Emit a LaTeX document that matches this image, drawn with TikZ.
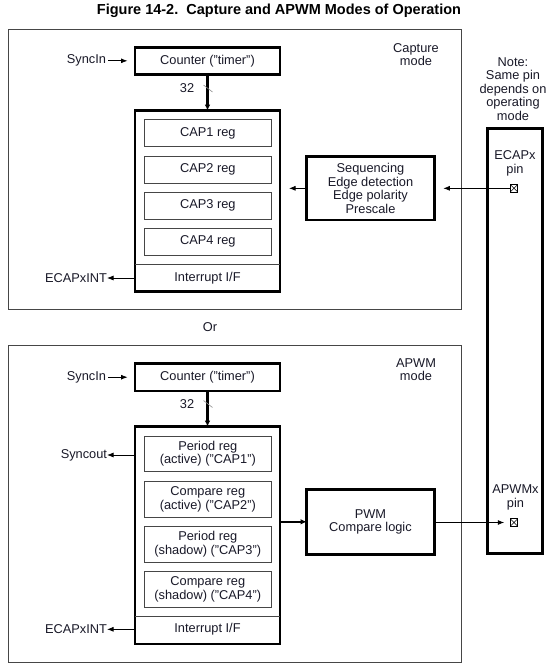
\documentclass[tikz,border=0pt]{standalone}
\usepackage{fontspec}
\setmainfont{Liberation Sans}
\usetikzlibrary{arrows.meta}
\definecolor{txtc}{RGB}{25,25,40}
\definecolor{linec}{RGB}{70,70,70}
\begin{document}
\begin{tikzpicture}[x=1pt,y=-1pt,
  txt/.style={font=\fontsize{12.8}{13.5}\selectfont, text=txtc, inner sep=0pt, outer sep=0pt, align=center},
  frame/.style={draw=linec, line width=0.9pt},
  thickbox/.style={draw=black, line width=2.6pt, inner sep=0pt, outer sep=0pt},
  regbox/.style={txt, draw=linec, line width=0.8pt, minimum width=127.7pt},
  arr/.style={draw=black, line width=0.8pt, -{Latex[length=6.5pt,width=5pt]}},
  bus/.style={draw=black, line width=2.6pt, -{Latex[length=6pt,width=5.5pt]}},
  slashmark/.style={draw=black!45, line width=0.6pt},
  pinsym/.style={draw=black, line width=0.6pt, minimum size=7.5pt, inner sep=0pt, outer sep=0pt,
    path picture={\draw[line width=0.5pt] (path picture bounding box.south west) -- (path picture bounding box.north east)
      (path picture bounding box.north west) -- (path picture bounding box.south east);}},
]
\useasboundingbox (0,0) rectangle (554,667);
\fill[white] (0,0) rectangle (554,667);

% title
\node[font=\bfseries\fontsize{14.5}{16}\selectfont, text=black, inner sep=0pt] (title) at (279,11) {Figure 14-2.\ \ Capture and APWM Modes of Operation};

% ===== Capture mode =====
\draw[frame] (8.3,29.3) rectangle (461.7,309.3);
\node[txt] (capmode) at (416,54.5) {Capture\\mode};

\node[thickbox, txt, minimum width=145pt, minimum height=27pt] (cnt1) at (207.5,60.8) {Counter ("timer")};
\node[txt, anchor=east] (si1) at (106,60.8) {SyncIn};
\draw[arr, shorten <=2pt, shorten >=7.5pt] (si1.east) -- (cnt1.west);

\node[thickbox, minimum width=145pt, minimum height=181pt] (stk1) at (207.5,201.2) {};
\draw[bus] (cnt1.south) -- (stk1.north);
\node[txt] (n32a) at (187,88.3) {32};
\draw[slashmark] (203.5,85) -- (212.5,92);

\node[regbox, minimum height=27pt] (cap1) at (207.8,133) {CAP1 reg};
\node[regbox, minimum height=27pt] (cap2) at (207.8,169.7) {CAP2 reg};
\node[regbox, minimum height=27pt] (cap3) at (207.8,205.7) {CAP3 reg};
\node[regbox, minimum height=27pt] (cap4) at (207.8,241.8) {CAP4 reg};
\coordinate (div1) at (135,264.3);
\draw[draw=linec, line width=0.8pt] (div1) -- (div1 -| stk1.east);
\node[txt] (int1) at (207.5,278) {Interrupt I/F};
\node[txt, anchor=east] (ei1) at (107,278) {ECAPxINT};
\draw[arr] (stk1.west |- int1) -- (ei1.east);

\node[thickbox, txt, minimum width=127.6pt, minimum height=63.3pt] (seq) at (370.5,188.3) {Sequencing\\Edge detection\\Edge polarity\\Prescale};
\draw[arr, shorten >=9pt] (seq.west) -- (stk1.east |- seq.west);

% ===== pin column =====
\node[thickbox, minimum width=55pt, minimum height=425pt] (col) at (515,341) {};
\node[txt] (note) at (513,88.7) {Note:\\Same pin\\depends on\\operating\\mode};
\node[txt] (ecaplbl) at (515,163.3) {ECAPx\\pin};
\node[pinsym] (pin1) at (514,188.3) {};
\draw[arr, shorten >=9pt] (pin1.west) -- (seq.east);
\node[txt] (apwmlbl) at (515.5,497.3) {APWMx\\pin};
\node[pinsym] (pin2) at (514,522.5) {};

% Or
\node[txt] (or) at (210,327) {Or};

% ===== APWM mode =====
\draw[frame] (8.3,345.7) rectangle (461.7,662.3);
\node[txt] (apwmmode) at (416,369.5) {APWM\\mode};

\node[thickbox, txt, minimum width=145pt, minimum height=27.7pt] (cnt2) at (207.5,377.2) {Counter ("timer")};
\node[txt, anchor=east] (si2) at (106,377.2) {SyncIn};
\draw[arr, shorten <=2pt, shorten >=7.5pt] (si2.east) -- (cnt2.west);

\node[thickbox, minimum width=145pt, minimum height=217.3pt] (stk2) at (207.5,535.35) {};
\draw[bus] (cnt2.south) -- (stk2.north);
\node[txt] (n32b) at (187,404) {32};
\draw[slashmark] (203.5,400.5) -- (212.5,407.5);

\node[regbox, minimum height=35.5pt] (pra) at (207.8,453.9) {Period reg\\(active) ("CAP1")};
\node[regbox, minimum height=35.5pt] (cra) at (207.8,499.2) {Compare reg\\(active) ("CAP2")};
\node[regbox, minimum height=35.5pt] (prs) at (207.8,544.4) {Period reg\\(shadow) ("CAP3")};
\node[regbox, minimum height=35.5pt] (crs) at (207.8,589.5) {Compare reg\\(shadow) ("CAP4")};
\coordinate (div2) at (135,616.7);
\draw[draw=linec, line width=0.8pt] (div2) -- (div2 -| stk2.east);
\node[txt] (int2) at (207.5,629.3) {Interrupt I/F};
\node[txt, anchor=east] (ei2) at (107,629.3) {ECAPxINT};
\draw[arr] (stk2.west |- int2) -- (ei2.east);
\node[txt, anchor=east] (so) at (107,455) {Syncout};
\draw[arr] (stk2.west |- so) -- (so.east);

\node[thickbox, txt, minimum width=127.6pt, minimum height=65pt] (pwm) at (370.5,521.8) {PWM\\Compare logic};
\draw[bus] (stk2.east |- pwm.west) -- (pwm.west);
\draw[arr, shorten >=6pt] (pwm.east |- pin2) -- (pin2.west);
\end{tikzpicture}
\end{document}
